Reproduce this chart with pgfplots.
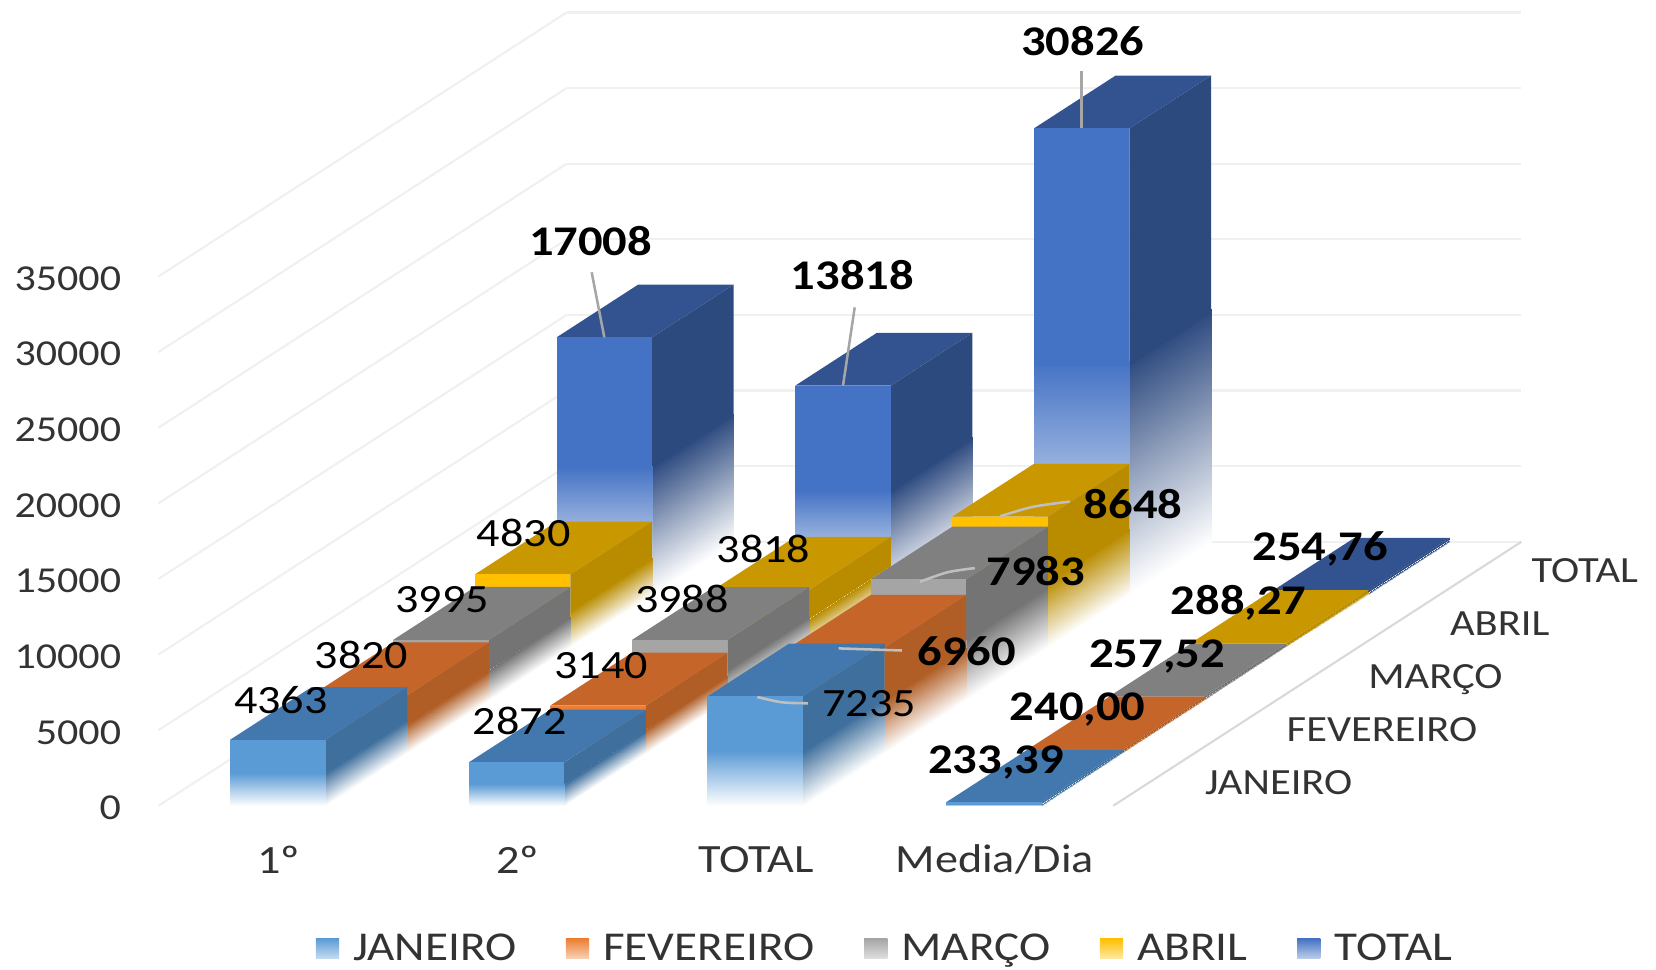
\documentclass[border=0pt]{standalone}
\usepackage{fontspec}
\setmainfont{Carlito}[FakeStretch=1.15]
\usepackage{pgfplots}
\pgfplotsset{compat=1.18}

\definecolor{janF}{HTML}{5B9BD5}\definecolor{janT}{HTML}{4278AE}\definecolor{janS}{HTML}{3F6F9C}
\definecolor{fevF}{HTML}{ED7D31}\definecolor{fevT}{HTML}{C5652A}\definecolor{fevS}{HTML}{B05E26}
\definecolor{marF}{HTML}{A5A5A5}\definecolor{marT}{HTML}{808080}\definecolor{marS}{HTML}{747474}
\definecolor{abrF}{HTML}{FFC000}\definecolor{abrT}{HTML}{C99700}\definecolor{abrS}{HTML}{B98C00}
\definecolor{totF}{HTML}{4472C4}\definecolor{totT}{HTML}{32538F}\definecolor{totS}{HTML}{2D4A7F}
\definecolor{txt}{HTML}{333333}

\pgfplotsset{
  colormap={janFm}{color=(white) color=(janF)},colormap={janSm}{color=(white) color=(janS)},
  colormap={fevFm}{color=(white) color=(fevF)},colormap={fevSm}{color=(white) color=(fevS)},
  colormap={marFm}{color=(white) color=(marF)},colormap={marSm}{color=(white) color=(marS)},
  colormap={abrFm}{color=(white) color=(abrF)},colormap={abrSm}{color=(white) color=(abrS)},
  colormap={totFm}{color=(white) color=(totF)},colormap={totSm}{color=(white) color=(totS)},
}

% one 3d column: category centre, row, value, colour prefix
\newcommand{\barbox}[4]{%
  \edef\xa{\fpeval{#1-0.2}}\edef\xb{\fpeval{#1+0.2}}%
  \edef\yb{\fpeval{#2+1}}%
  \edef\zh{\fpeval{#3*0.5}}\edef\zo{\fpeval{#3*0.49}}%
  \addplot3[patch,patch type=rectangle,shader=interp,point meta=explicit,colormap name=#4Sm,forget plot]
    coordinates {(\xb,#2,0)[0] (\xb,\yb,0)[0] (\xb,\yb,\zh)[1] (\xb,#2,\zh)[1]};
  \addplot3[fill=#4S,draw=none,no markers,forget plot]
    coordinates {(\xb,#2,\zo)(\xb,\yb,\zo)(\xb,\yb,#3)(\xb,#2,#3)} --cycle;
  \addplot3[fill=#4T,draw=none,no markers,forget plot]
    coordinates {(\xa,#2,#3)(\xb,#2,#3)(\xb,\yb,#3)(\xa,\yb,#3)} --cycle;
  \addplot3[patch,patch type=rectangle,shader=interp,point meta=explicit,colormap name=#4Fm,forget plot]
    coordinates {(\xa,#2,0)[0] (\xb,#2,0)[0] (\xb,#2,\zh)[1] (\xa,#2,\zh)[1]};
  \addplot3[fill=#4F,draw=none,no markers,forget plot]
    coordinates {(\xa,#2,\zo)(\xb,#2,\zo)(\xb,#2,#3)(\xa,#2,#3)} --cycle;
}
% data label: x, row, value, shift right, shift up (in reference px), text
\newcommand{\lab}[6]{\node[font=\fontsize{19}{21}\selectfont,text=black,inner sep=0pt,xshift=#4*0.5pt,yshift=#5*0.5pt]
  at (axis cs:#1,#2,#3) {#6};}
\newcommand{\labb}[6]{\node[font=\fontsize{20}{22}\selectfont\bfseries,text=black,inner sep=0pt,xshift=#4*0.5pt,yshift=#5*0.5pt]
  at (axis cs:#1,#2,#3) {#6};}

\begin{document}
\begin{tikzpicture}
\path[use as bounding box] (0,0) rectangle (784pt,458.75pt);
\begin{axis}[
  at={(75pt,77.25pt)},anchor=origin,
  x={(113pt,0pt)},y={(38.65pt,25pt)},z={(0pt,0.007155pt)},
  xmin=0,xmax=4,ymin=0,ymax=5,zmin=0,zmax=35000,
  clip=false,
  axis line style={draw=none},
  major tick length=0pt,
  xtick={0.5,1.5,2.5,3.5},xticklabels={1º,2º,TOTAL,Media/Dia},
  ytick={0.5,1.5,2.5,3.5,4.5},yticklabels={JANEIRO,FEVEREIRO,MARÇO,ABRIL,TOTAL},
  ztick={0,5000,10000,15000,20000,25000,30000,35000},
  zmajorgrids=true,
  grid style={color=black!6,line width=1pt},
  scaled z ticks=false,
  /pgf/number format/assume math mode=true,
  /pgf/number format/1000 sep={},
  z tick label style={font=\fontsize{17.3}{19}\selectfont,text=txt,anchor=east,inner sep=0pt,xshift=-17.5pt,yshift=-1pt},
  x tick label style={font=\fontsize{19}{21}\selectfont,text=txt,anchor=center,inner sep=0pt,xshift=0.5pt,yshift=-25.5pt},
  y tick label style={font=\fontsize{17.5}{19}\selectfont,text=txt,anchor=base west,inner sep=0pt,xshift=24pt,yshift=-7pt},
  point meta min=0,point meta max=1,
  legend columns=5,
  legend style={at={(0.534,-0.180)},anchor=center,draw=none,fill=none,
    font=\fontsize{19.4}{21}\selectfont,text=txt,
    nodes={inner ysep=0pt},
    /tikz/every even column/.style={column sep=21.5pt}},
  legend cell align=left,
  legend image code/.code={\path[#1,draw=none] (0pt,-4.75pt) rectangle (11pt,4.75pt);\path (15.5pt,0pt);},
]
% legend entries
\addlegendimage{top color=janF,middle color=janF,bottom color=janF!35!white}\addlegendentry{JANEIRO}
\addlegendimage{top color=fevF,middle color=fevF,bottom color=fevF!35!white}\addlegendentry{FEVEREIRO}
\addlegendimage{top color=marF,middle color=marF,bottom color=marF!35!white}\addlegendentry{MARÇO}
\addlegendimage{top color=abrF,middle color=abrF,bottom color=abrF!35!white}\addlegendentry{ABRIL}
\addlegendimage{top color=totF,middle color=totF,bottom color=totF!35!white}\addlegendentry{TOTAL}

% right edge of the floor
\addplot3[color=black!15,line width=1pt,no markers,forget plot] coordinates {(4,0,0)(4,5,0)};

% back row to front row
\barbox{0.5}{4}{17008}{tot}\barbox{1.5}{4}{13818}{tot}\barbox{2.5}{4}{30826}{tot}\barbox{3.5}{4}{254.76}{tot}
\barbox{0.5}{3}{4830}{abr}\barbox{1.5}{3}{3818}{abr}\barbox{2.5}{3}{8648}{abr}\barbox{3.5}{3}{288.27}{abr}
\barbox{0.5}{2}{3995}{mar}\barbox{1.5}{2}{3988}{mar}\barbox{2.5}{2}{7983}{mar}\barbox{3.5}{2}{257.52}{mar}
\barbox{0.5}{1}{3820}{fev}\barbox{1.5}{1}{3140}{fev}\barbox{2.5}{1}{6960}{fev}\barbox{3.5}{1}{240}{fev}
\barbox{0.5}{0}{4363}{jan}\barbox{1.5}{0}{2872}{jan}\barbox{2.5}{0}{7235}{jan}\barbox{3.5}{0}{233.39}{jan}

% leader lines
\addplot3[color=black!35,line width=1.2pt,no markers,forget plot] coordinates {(0.5,4,17008)(0.447,4,21313)};
\addplot3[color=black!35,line width=1.2pt,no markers,forget plot] coordinates {(1.5,4,13818)(1.549,4,18989)};
\addplot3[color=black!35,line width=1.2pt,no markers,forget plot] coordinates {(2.5,4,30826)(2.5,4,34600)};
\addplot3[color=black!25,line width=1.2pt,smooth,no markers,forget plot] coordinates {(2.509,0,7198)(2.611,0,6848)(2.721,0,6779)};
\addplot3[color=black!25,line width=1.2pt,no markers,forget plot] coordinates {(2.508,1,6918)(2.773,1,6778)};
\addplot3[color=black!25,line width=1.2pt,smooth,no markers,forget plot] coordinates {(2.506,2,7827)(2.621,2,8456)(2.736,2,8735)};
\addplot3[color=black!25,line width=1.2pt,smooth,no markers,forget plot] coordinates {(2.5,3,8665)(2.637,3,9294)(2.792,3,9644)};

% data labels
\lab{0.5}{0}{4363}{3}{38}{4363}
\lab{0.5}{1}{3820}{2}{38}{3820}
\lab{0.5}{2}{3995}{1}{38}{3995}
\lab{0.5}{3}{4830}{1}{39}{4830}
\labb{0.5}{4}{17008}{-13}{91}{17008}
\lab{1.5}{0}{2872}{3}{39}{2872}
\lab{1.5}{1}{3140}{3}{38}{3140}
\lab{1.5}{2}{3988}{2}{39}{3988}
\lab{1.5}{3}{3818}{2}{39}{3818}
\labb{1.5}{4}{13818}{9}{105}{13818}
\lab{2.5}{0}{7235}{108}{-6.5}{7235}
\labb{2.5}{1}{6960}{123}{-3}{6960}
\labb{2.5}{2}{7983}{111}{8}{7983}
\labb{2.5}{3}{8648}{126}{12}{8648}
\labb{2.5}{4}{30826}{1}{83}{30826}
\labb{3.5}{0}{233.39}{2}{38}{233,39}
\labb{3.5}{1}{240}{2}{38}{240,00}
\labb{3.5}{2}{257.52}{0}{38}{257,52}
\labb{3.5}{3}{288.27}{0}{38}{288,27}
\labb{3.5}{4}{254.76}{0}{40}{254,76}
\end{axis}
\end{tikzpicture}
\end{document}
